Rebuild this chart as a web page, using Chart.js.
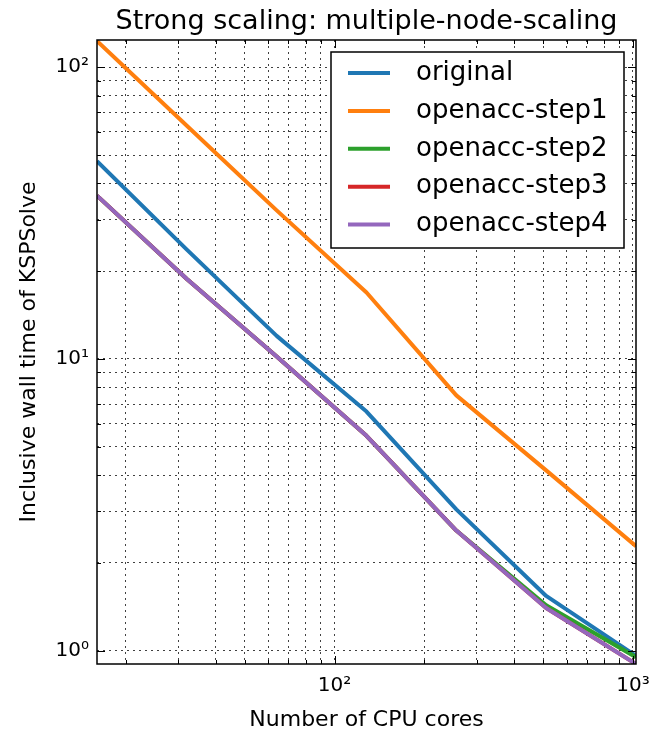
<!DOCTYPE html>
<html>
<head>
<meta charset="utf-8">
<script src="https://cdn.jsdelivr.net/npm/chart.js@4"></script>
<style>
  body { margin: 0; background: #fff; }
</style>
</head>
<body>
<canvas id="myChart" width="654" height="731"></canvas>
<script>
// cores on the x axis, times (s) per series
var cores = [16, 32, 64, 128, 256, 512, 1024];
var original = [47.6, 23.7, 12.0, 6.6, 3.05, 1.54, 0.96];
var step1 = [123, 63, 32.3, 16.9, 7.5, 4.15, 2.28];
var step2 = [36.3, 18.8, 10.2, 5.45, 2.58, 1.43, 0.95];
var step3 = [36.3, 18.8, 10.2, 5.45, 2.58, 1.40, 0.90];
var step4 = [36.3, 18.8, 10.2, 5.45, 2.58, 1.40, 0.90];

var seriesNames = ['original', 'openacc-step1', 'openacc-step2', 'openacc-step3', 'openacc-step4'];
var seriesColors = ['#1f77b4', '#ff7f0e', '#2ca02c', '#d62728', '#9467bd'];
var titleText = 'Strong scaling: multiple-node-scaling';

var xTicks = [20, 30, 40, 50, 60, 70, 80, 90, 100, 200, 300, 400, 500, 600, 700, 800, 900, 1000];
var yTicks = [1, 2, 3, 4, 5, 6, 7, 8, 9, 10, 20, 30, 40, 50, 60, 70, 80, 90, 100];

var sup = {'0': '\u2070', '1': '\u00b9', '2': '\u00b2', '3': '\u00b3'};
function powLabel(v) {
    var e = Math.log10(v);
    if (Math.abs(e - Math.round(e)) > 1e-9) return '';
    return '10' + sup[String(Math.round(e))];
}

function pts(vals) {
    return cores.map(function (c, i) { return {x: c, y: vals[i]}; });
}

Chart.defaults.font.family = 'DejaVu Sans';
Chart.defaults.color = '#000';

// box round the plot with inward ticks, like matplotlib
var frame = {
    id: 'frame',
    afterDatasetsDraw: function (chart) {
        var a = chart.chartArea, ctx = chart.ctx;
        var xs = chart.scales.x, ys = chart.scales.y;
        ctx.save();
        ctx.strokeStyle = '#000';
        ctx.lineWidth = 1;
        ctx.beginPath();
        xTicks.forEach(function (v) {
            var px = Math.round(xs.getPixelForValue(v)) + 0.5;
            var len = powLabel(v) ? 8 : 4;
            ctx.moveTo(px, a.bottom); ctx.lineTo(px, a.bottom - len);
            ctx.moveTo(px, a.top); ctx.lineTo(px, a.top + len);
        });
        yTicks.forEach(function (v) {
            var py = Math.round(ys.getPixelForValue(v)) + 0.5;
            var len = powLabel(v) ? 8 : 4;
            ctx.moveTo(a.left, py); ctx.lineTo(a.left + len, py);
            ctx.moveTo(a.right, py); ctx.lineTo(a.right - len, py);
        });
        ctx.stroke();
        ctx.lineWidth = 1.5;
        ctx.strokeRect(a.left, a.top, a.right - a.left, a.bottom - a.top);

        // title centred over the axes
        ctx.fillStyle = '#000';
        ctx.font = '27px "DejaVu Sans"';
        ctx.textAlign = 'center';
        ctx.textBaseline = 'alphabetic';
        ctx.fillText(titleText, (a.left + a.right) / 2, a.top - 11);
        ctx.restore();
    }
};

// legend box inside the plot, upper right
var boxLegend = {
    id: 'boxLegend',
    afterDraw: function (chart) {
        var ctx = chart.ctx, a = chart.chartArea;
        var x0 = a.right - 12 - 293, y0 = a.top + 12, w = 293, h = 196;
        ctx.save();
        ctx.fillStyle = '#fff';
        ctx.fillRect(x0, y0, w, h);
        ctx.strokeStyle = '#000';
        ctx.lineWidth = 1.5;
        ctx.strokeRect(x0, y0, w, h);
        ctx.font = '26px "DejaVu Sans"';
        ctx.textBaseline = 'middle';
        chart.data.datasets.forEach(function (ds, i) {
            var cy = y0 + 21 + i * 37.9;
            ctx.strokeStyle = ds.borderColor;
            ctx.lineWidth = 4;
            ctx.beginPath();
            ctx.moveTo(x0 + 17, cy);
            ctx.lineTo(x0 + 59, cy);
            ctx.stroke();
            ctx.fillStyle = '#000';
            ctx.fillText(ds.label, x0 + 85, cy);
        });
        ctx.restore();
    }
};

var all = [original, step1, step2, step3, step4];
var datasets = all.map(function (vals, i) {
    return {
        label: seriesNames[i],
        data: pts(vals),
        borderColor: seriesColors[i],
        backgroundColor: seriesColors[i],
        borderWidth: 4,
        pointRadius: 0,
        tension: 0,
        borderJoinStyle: 'round',
        order: all.length - 1 - i
    };
});

var ctx = document.getElementById('myChart').getContext('2d');
var chart = new Chart(ctx, {
    type: 'line',
    data: {datasets: datasets},
    options: {
        responsive: false,
        animation: false,
        layout: {padding: {left: 0, right: 18, top: 40, bottom: 0}},
        plugins: {
            legend: {display: false},
            tooltip: {enabled: false},
            title: {display: false}
        },
        scales: {
            x: {
                type: 'logarithmic',
                min: 16,
                max: 1024,
                afterBuildTicks: function (s) { s.ticks = xTicks.map(function (v) { return {value: v}; }); },
                afterFit: function (s) { s.height = 67; s.paddingLeft = 0; s.paddingRight = 0; },
                ticks: {
                    autoSkip: false,
                    maxRotation: 0,
                    padding: 10,
                    font: {size: 20},
                    callback: function (v) { return powLabel(v); }
                },
                grid: {color: 'rgba(0,0,0,0.75)', lineWidth: 1, drawTicks: false},
                border: {display: false, dash: [2, 4]},
                title: {
                    display: true,
                    text: 'Number of CPU cores',
                    font: {size: 22, lineHeight: 1.0},
                    padding: {top: 0, bottom: 0}
                }
            },
            y: {
                type: 'logarithmic',
                min: 0.9,
                max: 124,
                afterBuildTicks: function (s) { s.ticks = yTicks.map(function (v) { return {value: v}; }); },
                afterFit: function (s) { s.width = 97; s.paddingTop = 0; s.paddingBottom = 0; },
                ticks: {
                    autoSkip: false,
                    padding: 8,
                    font: {size: 20},
                    callback: function (v) { return powLabel(v); }
                },
                grid: {color: 'rgba(0,0,0,0.75)', lineWidth: 1, drawTicks: false},
                border: {display: false, dash: [2, 4]},
                title: {
                    display: true,
                    text: 'Inclusive wall time of KSPSolve',
                    font: {size: 22},
                    padding: {top: 16, bottom: 0}
                }
            }
        }
    },
    plugins: [frame, boxLegend]
});
</script>
</body>
</html>
